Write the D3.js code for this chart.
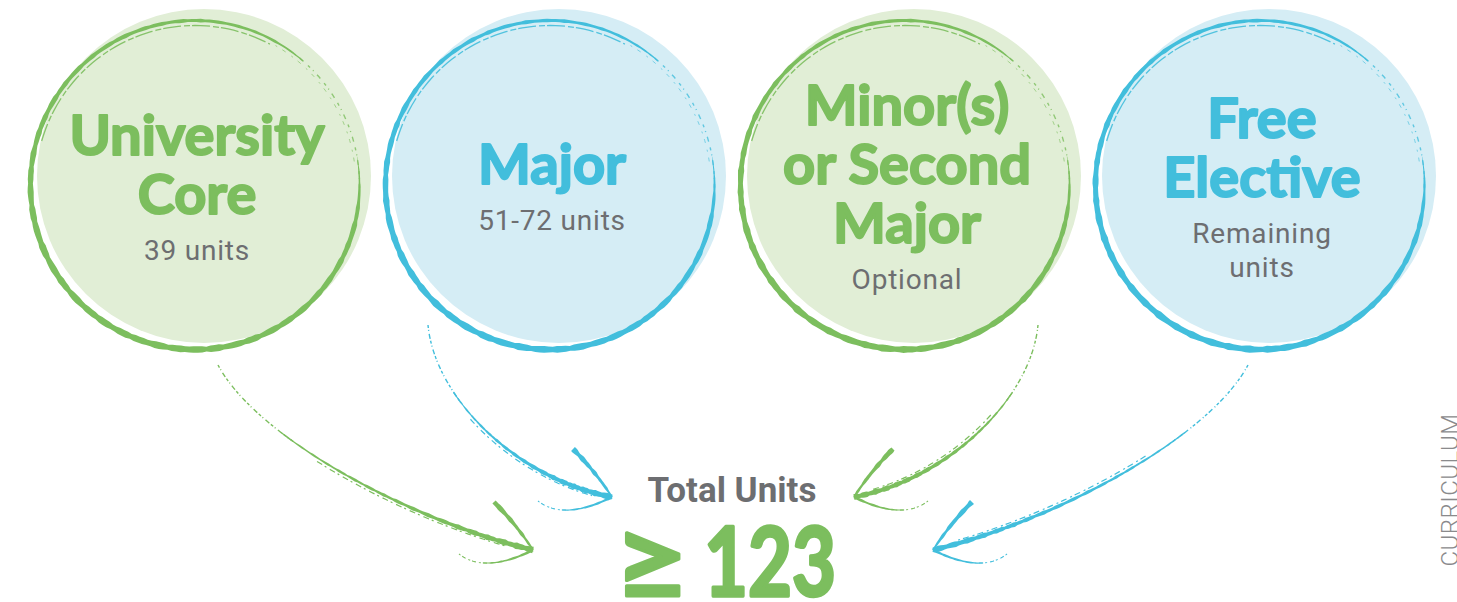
<!DOCTYPE html>
<html>
<head>
<meta charset="utf-8">
<script src="https://cdn.jsdelivr.net/npm/d3@7"></script>
<style>
  html, body { margin: 0; padding: 0; background: #fff; }
  svg { display: block; }
</style>
</head>
<body>
<svg id="canvas" width="1457" height="602"></svg>
<script>
// the four building blocks of the curriculum
const categories = ["University Core", "Major", "Minor(s) or Second Major", "Free Elective"];
const titleLines = [["University", "Core"], ["Major"], ["Minor(s)", "or Second", "Major"], ["Free", "Elective"]];
const unitLines = [["39 units"], ["51-72 units"], ["Optional"], ["Remaining", "units"]];
const colorKeys = ["green", "blue", "green", "blue"];

const totalTitle = "Total Units";
const totalSign = "\u2265";
const totalValue = "123";
const sideLabel = "CURRICULUM";

const colors = {
  green: { ink: "#7cbe5e", fill: "#e1eed6" },
  blue: { ink: "#42bedc", fill: "#d5edf5" }
};
const grey = "#6d6e71";

const svg = d3.select("#canvas");
const cy = 185, r = 164.5;
const hubX = 733;

const xScale = d3.scalePoint().domain(categories).range([195, 1260]);

// deterministic wobble for the brush look
function noise(t) {
  return 0.5 * Math.sin(t * 53.1) + 0.3 * Math.sin(t * 131.7 + 1.3) + 0.2 * Math.sin(t * 271.9 + 2.1);
}

function ribbon(pts) {
  const a = pts.map(p => [p.x + p.nx * p.w / 2, p.y + p.ny * p.w / 2]);
  const b = pts.map(p => [p.x - p.nx * p.w / 2, p.y - p.ny * p.w / 2]).reverse();
  return "M" + a.concat(b).map(p => p[0].toFixed(1) + "," + p[1].toFixed(1)).join("L") + "Z";
}

function cubic(s, t) {
  const [p0, c1, c2, p3] = s, u = 1 - t;
  const x = u * u * u * p0[0] + 3 * u * u * t * c1[0] + 3 * u * t * t * c2[0] + t * t * t * p3[0];
  const y = u * u * u * p0[1] + 3 * u * u * t * c1[1] + 3 * u * t * t * c2[1] + t * t * t * p3[1];
  const dx = 3 * u * u * (c1[0] - p0[0]) + 6 * u * t * (c2[0] - c1[0]) + 3 * t * t * (p3[0] - c2[0]);
  const dy = 3 * u * u * (c1[1] - p0[1]) + 6 * u * t * (c2[1] - c1[1]) + 3 * t * t * (p3[1] - c2[1]);
  const len = Math.hypot(dx, dy) || 1;
  return { x: x, y: y, nx: -dy / len, ny: dx / len };
}

function quad(p0, c, p2) {
  return [p0,
    [p0[0] + 2 / 3 * (c[0] - p0[0]), p0[1] + 2 / 3 * (c[1] - p0[1])],
    [p2[0] + 2 / 3 * (c[0] - p2[0]), p2[1] + 2 / 3 * (c[1] - p2[1])],
    p2];
}

function sample(s, t0, t1, n) {
  return d3.range(n + 1).map(k => {
    const t = t0 + (t1 - t0) * k / n;
    const p = cubic(s, t);
    p.t = t;
    return p;
  });
}

const line = d3.line().x(d => d.x).y(d => d.y);

// ---------- circles ----------
const ringWidth = d3.scaleLinear()
  .domain([-10, 0, 14, 90, 160, 225, 270, 300, 312])
  .range([0.3, 2.0, 4.6, 6.2, 6.0, 4.0, 3.2, 2.4, 0.8])
  .clamp(true);

const nodes = svg.append("g").attr("class", "nodos");

categories.forEach((cat, i) => {
  const cx = xScale(cat);
  const col = colors[colorKeys[i]];
  const g = nodes.append("g").attr("class", "nodo");

  g.append("circle")
    .attr("cx", cx + 9)
    .attr("cy", cy - 9)
    .attr("r", 167)
    .attr("fill", col.fill);

  // main brush ring
  const pts = d3.range(-10, 312.5, 1.5).map(a => {
    const rad = a * Math.PI / 180;
    const w = ringWidth(a) * (1 + 0.22 * noise(a / 57 + i));
    return { x: cx + r * Math.cos(rad), y: cy + r * Math.sin(rad), nx: Math.cos(rad), ny: Math.sin(rad), w: w };
  });
  g.append("path").attr("d", ribbon(pts)).attr("fill", col.ink);

  const arc = (r0, a0, a1) => d3.range(a0, a1 + 0.1, 2).map(a => {
    const rad = a * Math.PI / 180;
    return { x: cx + r0 * Math.cos(rad), y: cy + r0 * Math.sin(rad) };
  });

  // inner strand across the top left
  g.append("path")
    .attr("d", line(arc(r - 5, 196, 298)))
    .attr("fill", "none")
    .attr("stroke", col.ink)
    .attr("stroke-width", 1.3)
    .attr("stroke-dasharray", "18 3 6 2")
    .attr("opacity", 0.9);

  // faint broken part on the upper right
  g.append("path")
    .attr("d", line(arc(r, 305, 362)))
    .attr("fill", "none")
    .attr("stroke", col.ink)
    .attr("stroke-width", 1.4)
    .attr("stroke-dasharray", "3 4 1 5 5 6")
    .attr("opacity", 0.8);
  g.append("path")
    .attr("d", line(arc(r - 3.5, 300, 352)))
    .attr("fill", "none")
    .attr("stroke", col.ink)
    .attr("stroke-width", 0.9)
    .attr("stroke-dasharray", "2 6 4 7")
    .attr("opacity", 0.7);

  // labels
  const tx = cx + 2;
  const nT = titleLines[i].length, nS = unitLines[i].length;
  const blockH = (nT - 1) * 59 + 40 + 46 + (nS - 1) * 34;
  const top = 187 - blockH / 2;

  g.selectAll("text.title")
    .data(titleLines[i])
    .join("text")
    .attr("class", "title")
    .attr("x", tx)
    .attr("y", (d, k) => top + 40 + k * 59)
    .attr("text-anchor", "middle")
    .attr("font-family", "Lato, 'Open Sans', sans-serif")
    .attr("font-weight", 700)
    .attr("font-size", 56)
    .attr("fill", col.ink)
    .attr("stroke", col.ink)
    .attr("stroke-width", 2)
    .attr("stroke-linejoin", "round")
    .text(d => d);

  g.selectAll("text.units")
    .data(unitLines[i])
    .join("text")
    .attr("class", "units")
    .attr("x", tx)
    .attr("y", (d, k) => top + 40 + (nT - 1) * 59 + 46 + k * 34)
    .attr("text-anchor", "middle")
    .attr("font-family", "Roboto, 'Liberation Sans', sans-serif")
    .attr("font-size", 28)
    .attr("letter-spacing", 0.8)
    .attr("fill", grey)
    .text(d => d);
});

// ---------- arrows ----------
// left-hand shapes as offsets from the hub; the right-hand ones are mirrored
const outerArrow = [[-515, 365], [-475, 440], [-318, 522], [-200, 550]];
const innerArrow = [[-305, 325], [-298, 400], [-213, 480], [-121, 497]];

const arrows = svg.append("g").attr("class", "arrows");

categories.forEach((cat, i) => {
  const col = colors[colorKeys[i]].ink;
  const sgn = i < 2 ? 1 : -1;
  const shape = (i === 0 || i === 3) ? outerArrow : innerArrow;
  const P = p => [hubX + sgn * p[0], p[1]];
  const s = shape.map(P);
  const tip = s[3];
  const g = arrows.append("g");

  // thin dashed start
  g.append("path")
    .attr("d", line(sample(s, 0, 0.34, 40)))
    .attr("fill", "none")
    .attr("stroke", col)
    .attr("stroke-width", 1.4)
    .attr("stroke-dasharray", "3 2 1 3 5 2");

  // body of the brush stroke
  const body = sample(s, 0.3, 1, 90).map(p => {
    const k = (p.t - 0.3) / 0.7;
    p.w = (1.3 + 4.2 * Math.pow(k, 1.2)) * (1 + 0.32 * noise(p.t * 3 + i));
    return p;
  });
  g.append("path").attr("d", ribbon(body)).attr("fill", col);

  // second loose strand
  const strand = sample(s, 0.42, 0.93, 40).map(p => ({ x: p.x + p.nx * 3.2, y: p.y + p.ny * 3.2 }));
  g.append("path")
    .attr("d", line(strand))
    .attr("fill", "none")
    .attr("stroke", col)
    .attr("stroke-width", 1.2)
    .attr("stroke-dasharray", "6 3 2 4");

  // upper barb
  const bEnd = [tip[0] - sgn * 39, tip[1] - 48];
  const barb = quad(tip, [tip[0] - sgn * 17, tip[1] - 26], bEnd);
  const barbPts = sample(barb, 0, 1, 30).map(p => {
    p.w = (2 + 3 * p.t) * (1 + 0.25 * noise(p.t * 4 + i));
    return p;
  });
  g.append("path").attr("d", ribbon(barbPts)).attr("fill", col);

  // lower curved barb
  const lower = quad(tip, [tip[0] - sgn * 48, tip[1] + 24], [tip[0] - sgn * 74, tip[1] + 4]);
  const lowPts = sample(lower, 0, 0.6, 30).map(p => {
    p.w = (2.6 - 2.6 * p.t) * (1 + 0.25 * noise(p.t * 5 + i));
    return p;
  });
  g.append("path").attr("d", ribbon(lowPts)).attr("fill", col);
  g.append("path")
    .attr("d", line(sample(lower, 0.55, 1, 20)))
    .attr("fill", "none")
    .attr("stroke", col)
    .attr("stroke-width", 1.1)
    .attr("stroke-dasharray", "4 2 2 3");
});

// ---------- total ----------
svg.append("text")
  .attr("x", hubX - 1)
  .attr("y", 502)
  .attr("text-anchor", "middle")
  .attr("font-family", "Roboto, 'Liberation Sans', sans-serif")
  .attr("font-weight", 700)
  .attr("font-size", 35)
  .attr("fill", grey)
  .text(totalTitle);

svg.append("text")
  .attr("x", 614)
  .attr("y", 600)
  .attr("font-family", "Lato, 'DejaVu Sans', sans-serif")
  .attr("font-weight", 700)
  .attr("font-size", 112)
  .attr("textLength", 76)
  .attr("lengthAdjust", "spacingAndGlyphs")
  .attr("fill", colors.green.ink)
  .attr("stroke", colors.green.ink)
  .attr("stroke-width", 3)
  .attr("stroke-linejoin", "round")
  .text(totalSign);

svg.append("text")
  .attr("x", 704)
  .attr("y", 596)
  .attr("font-family", "Lato, 'Open Sans', sans-serif")
  .attr("font-weight", 700)
  .attr("font-size", 96)
  .attr("textLength", 132)
  .attr("lengthAdjust", "spacingAndGlyphs")
  .attr("fill", colors.green.ink)
  .attr("stroke", colors.green.ink)
  .attr("stroke-width", 3.5)
  .attr("stroke-linejoin", "round")
  .text(totalValue);

svg.append("text")
  .attr("transform", "translate(1458,490) rotate(-90)")
  .attr("text-anchor", "middle")
  .attr("font-family", "Roboto, 'Liberation Sans', sans-serif")
  .attr("font-weight", 300)
  .attr("font-size", 24)
  .attr("letter-spacing", 0.5)
  .attr("fill", "#8a8a8c")
  .text(sideLabel);
</script>
</body>
</html>
